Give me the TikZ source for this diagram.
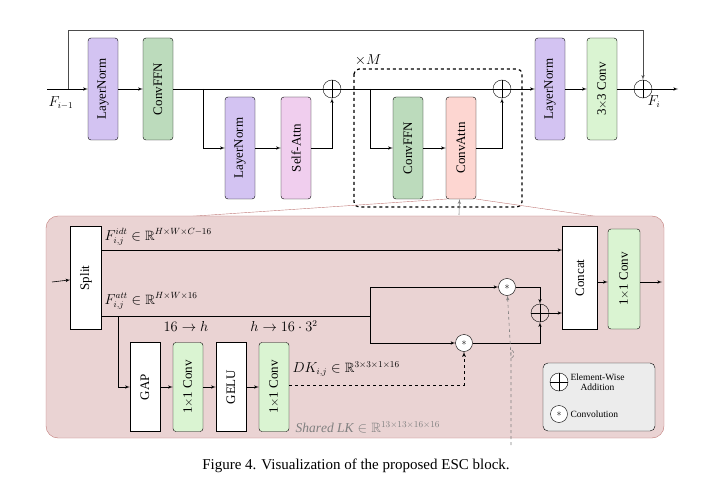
\documentclass[tikz,border=0pt]{standalone}
\usepackage{amsmath,amssymb}
\usepackage{fontspec}
\setmainfont{Liberation Serif}
\usetikzlibrary{arrows}

\definecolor{lnpurple}{HTML}{D3C3F2}
\definecolor{ffngreen}{HTML}{BCDBBC}
\definecolor{attpink}{HTML}{F0CEEE}
\definecolor{caattn}{HTML}{FDD6D1}
\definecolor{convgreen}{HTML}{DAF4D2}
\definecolor{panelfill}{HTML}{EAD3D3}
\definecolor{panelline}{HTML}{C07A78}

\begin{document}
\begin{tikzpicture}[x=1pt,y=-1pt]
\tikzset{blk/.style = {shape=rectangle,draw,rotate=90,rounded corners=3pt,
		minimum width=102,minimum height=30,inner sep=1pt,font=\fontsize{13}{13}\selectfont}}
\tikzset{sblk/.style = {blk,rounded corners=0pt,fill=white}}
\tikzset{addop/.style = {shape=circle,draw,minimum size=18,inner sep=0pt,
		path picture={\draw (path picture bounding box.north) -- (path picture bounding box.south)
		(path picture bounding box.west) -- (path picture bounding box.east);}}}
\tikzset{convop/.style = {shape=circle,draw,fill=white,minimum size=17,inner sep=0pt}}
\tikzset{lbl/.style = {font=\fontsize{13.5}{13.5}\selectfont}}
\tikzset{edge/.style = {->,> = latex',semithick}}
\useasboundingbox (0,0) rectangle (712,497);
% top row
\coordinate (in) at (47,89);
\coordinate (sk) at (68,89);
\node[blk,fill=lnpurple] (ln1) at (103,89) {LayerNorm};
\node[blk,fill=ffngreen] (ffn1) at (158,89) {ConvFFN};
\node[blk,fill=lnpurple] (ln2) at (240,148) {LayerNorm};
\node[blk,fill=attpink] (sa) at (296,148) {Self-Attn};
\node[addop] (p1) at (332,89) {};
\node[blk,fill=ffngreen] (ffn2) at (408,148) {ConvFFN};
\node[blk,fill=caattn] (ca) at (461,148) {ConvAttn};
\node[addop] (p2) at (502,89) {};
\node[blk,fill=lnpurple] (ln3) at (550,89) {LayerNorm};
\node[blk,fill=convgreen] (c33) at (602,89) {3$\times$3 Conv};
\node[addop] (p3) at (643,89) {};
\coordinate (out) at (678,89);
\coordinate (b1) at (203,89);
\coordinate (b2) at (370,89);
\node[lbl] at (61,103) {$F_{i-1}$};
\node[lbl] at (654,102) {$F_i$};
\node[lbl] at (368,60) {$\times M$};
\draw[dashed,very thick,rounded corners=5pt] (354,69) rectangle (522,207);

% top edges
\draw (in) -- (sk);
\draw[edge] (sk) -- (ln1);
\draw[edge] (ln1) -- (ffn1);
\draw (ffn1) -- (p1);
\draw[edge] (b1) |- (ln2);
\draw[edge] (ln2) -- (sa);
\draw[edge] (sa.south) -| (p1);
\draw (p1) -- (p2);
\draw[edge] (b2) |- (ffn2);
\draw[edge] (ffn2) -- (ca);
\draw[edge] (ca.south) -| (p2);
\draw[edge] (p2) -- (ln3);
\draw[edge] (ln3) -- (c33);
\draw (c33) -- (p3);
\draw[edge] (p3) -- (out);
\draw[edge,gray!60!black] (sk) -- (68,30) -| (p3);

% zoom lines and panel
\draw[panelline] (447,199) -- (48,226);
\draw[panelline] (476,199) -- (662,226);
\draw[panelline,fill=panelfill,rounded corners=12pt] (46,216) rectangle (664,438);
\draw[edge,gray] (459,215) -- (ca);

% bottom panel
\node[sblk,minimum width=103,minimum height=31] (split) at (86,278) {Split};
\node[sblk,minimum width=103,minimum height=35] (cat) at (580,278) {Concat};
\node[blk,fill=convgreen,minimum width=100,minimum height=32] (cv3) at (624,279) {1$\times$1 Conv};
\node[sblk,minimum width=89] (gap) at (145,387) {GAP};
\node[blk,fill=convgreen,minimum width=89] (cv1) at (188,387) {1$\times$1 Conv};
\node[sblk,minimum width=89] (gelu) at (231,387) {GELU};
\node[blk,fill=convgreen,minimum width=89] (cv2) at (274,387) {1$\times$1 Conv};
\node[convop] (m1) at (507,287) {$\ast$};
\node[convop] (m2) at (464,343) {$\ast$};
\node[addop] (p4) at (540,313) {};
\coordinate (sin) at (52,282);
\coordinate (sout) at (662,282);
\coordinate (fa) at (370,316);
\coordinate (fb) at (118,316);

\node[lbl,anchor=west] at (101,237) {$F_{i,j}^{idt}\in\mathbb{R}^{H\times W\times C-16}$};
\node[lbl,anchor=west] at (101,301) {$F_{i,j}^{att}\in\mathbb{R}^{H\times W\times 16}$};
\node[lbl] at (186,326) {$16\rightarrow h$};
\node[lbl] at (284,326) {$h\rightarrow 16\cdot 3^2$};
\node[lbl,anchor=west] at (289,369) {$DK_{i,j}\in\mathbb{R}^{3\times3\times1\times16}$};
\node[lbl,anchor=west,gray] at (292,427) {$\mathit{Shared\ LK}\in\mathbb{R}^{13\times13\times16\times16}$};

\draw[edge] (sin) -- (split);
\draw[edge] (split.south |- 0,250) -- (cat.north |- 0,250);
\draw (split.south |- fa) -- (fa);
\draw[edge] (fa) |- (m1);
\draw[edge] (fa) |- (m2);
\draw[edge] (m1) -| (p4);
\draw[edge] (m2) -| (p4);
\draw[edge] (p4) -- (cat.north |- p4);
\draw[edge] (cat.south |- sout) -- (cv3.north |- sout);
\draw[edge] (cv3.south |- sout) -- (sout);
\draw[edge] (fb) |- (gap);
\draw[edge] (gap) -- (cv1);
\draw[edge] (cv1) -- (gelu);
\draw[edge] (gelu) -- (cv2);
\draw[edge,dashed,thick] (cv2.south |- 0,385) -| (m2);
\draw[edge,dashed,gray] (511,445) -- (511,350) arc (-90:90:3 and 4) -- (m1);

% legend
\draw[fill=gray!15,rounded corners=5pt] (543,363) rectangle (655,431);
\node[addop,fill=white] (lg1) at (559,382) {};
\node[convop] (lg2) at (559,414) {$\ast$};
\node[anchor=west,align=center,font=\fontsize{9.5}{10.5}\selectfont] at (567,382) {Element-Wise\\Addition};
\node[anchor=west,font=\fontsize{9.5}{10.5}\selectfont] at (567,414) {Convolution};

\node[font=\fontsize{15}{15}\selectfont] (cap) at (356,466) {Figure 4. Visualization of the proposed ESC block.};
\end{tikzpicture}
\end{document}
